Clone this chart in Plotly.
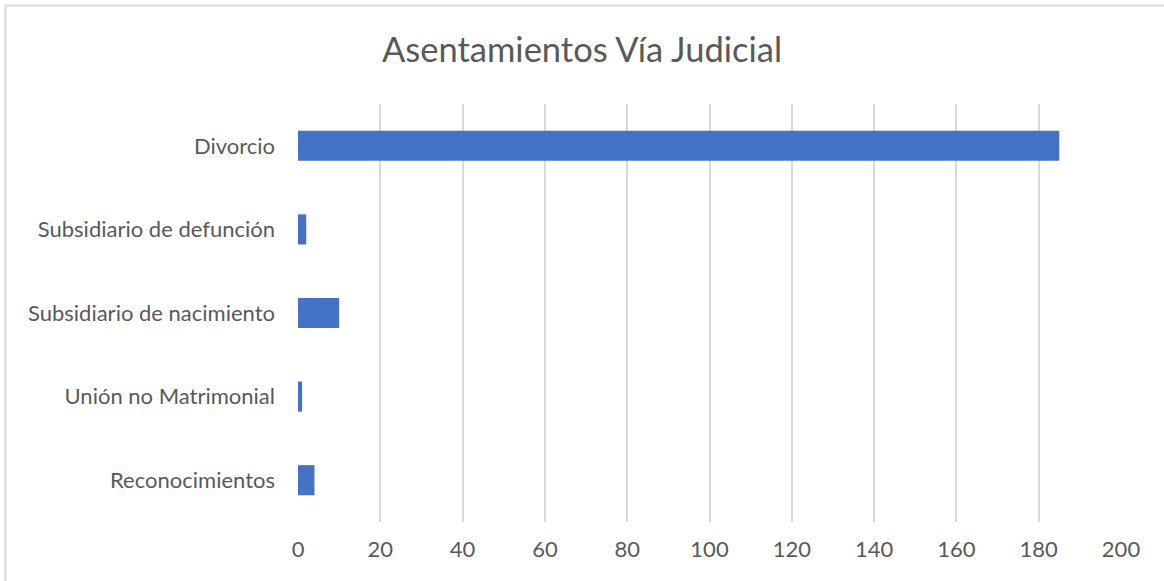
import plotly.graph_objects as go

categories = ["Divorcio", "Subsidiario de defunción", "Subsidiario de nacimiento",
              "Unión no Matrimonial", "Reconocimientos"]
values = [185, 2, 10, 1, 4]
x_ticks = [0, 20, 40, 60, 80, 100, 120, 140, 160, 180, 200]

W, H = 1164, 581
ML, MR, MT, MB = 298, 43, 104, 59
pw, ph = W - ML - MR, H - MT - MB

fig = go.Figure(go.Bar(
    y=categories, x=values, orientation="h",
    marker=dict(color="#4472C4", line=dict(width=0)),
))

gray = "#595959"
fig.update_layout(
    width=W, height=H,
    margin=dict(l=ML, r=MR, t=MT, b=MB),
    paper_bgcolor="white", plot_bgcolor="white",
    bargap=0.64,
    showlegend=False,
    font=dict(family="Lato", color=gray, size=22),
    title=dict(text="Asentamientos Vía Judicial", x=0.5, xanchor="center",
               y=1 - 50 / H, yanchor="middle",
               font=dict(family="Lato", size=34.5, color=gray)),
    xaxis=dict(range=[0, 200], tickvals=x_ticks, showgrid=True,
               gridcolor="#d9d9d9", gridwidth=2, zeroline=False,
               showline=False, ticks="", ticklabelstandoff=12,
               tickfont=dict(size=22, color=gray)),
    yaxis=dict(categoryorder="array", categoryarray=categories[::-1],
               showgrid=False, showline=False, ticks="",
               ticklabelstandoff=22, tickfont=dict(size=22, color=gray)),
)

# outer chart border (light gray)
x0 = (5.5 - ML) / pw
y1 = (H - MB - 5.5) / ph
fig.add_shape(type="rect", xref="paper", yref="paper",
              x0=x0, x1=(W + 40 - ML) / pw, y0=-(MB + 40) / ph, y1=y1,
              line=dict(color="#d9d9d9", width=2), layer="below")

fig.write_html("out.html", config={"displayModeBar": False},
               post_script="document.body.style.margin='0';document.body.style.padding='0';document.body.style.overflow='hidden';")
